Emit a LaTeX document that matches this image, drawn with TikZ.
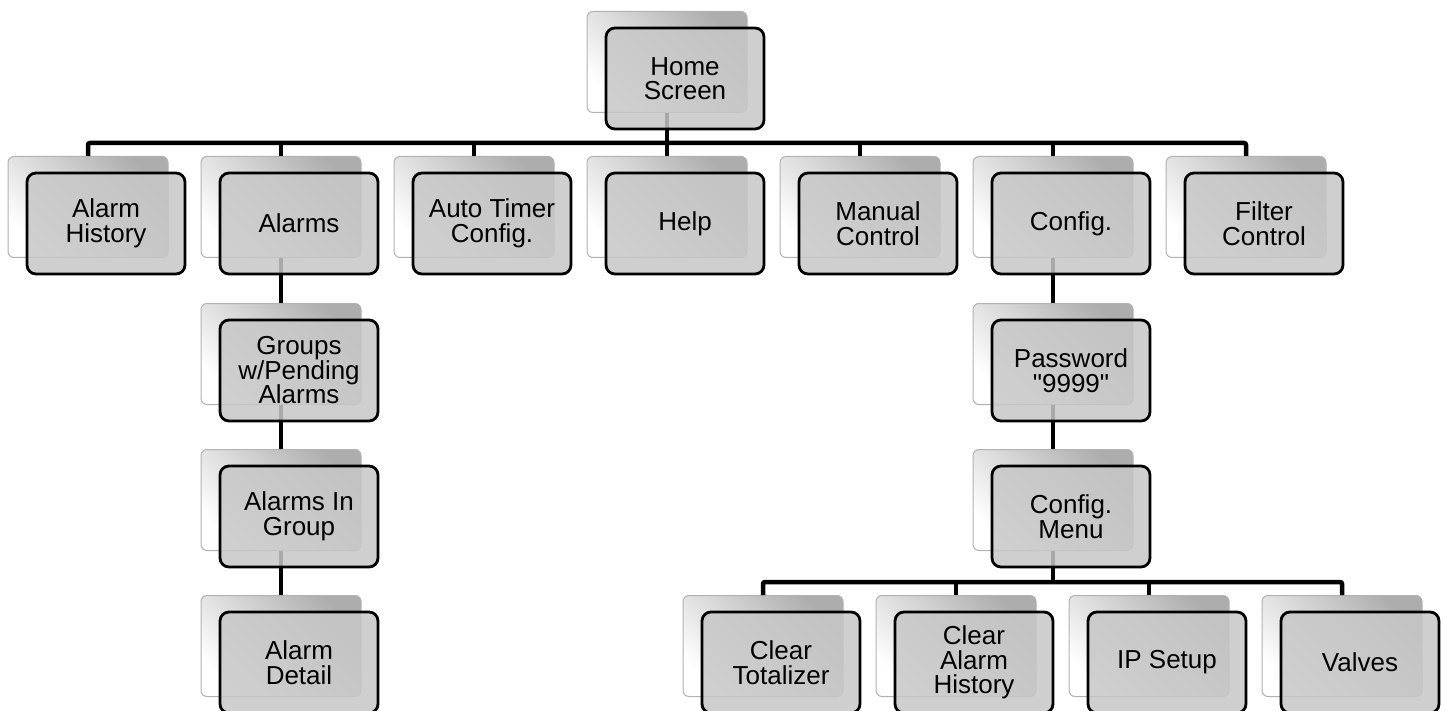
\documentclass[tikz,border=0pt]{standalone}
\usepackage{fontspec}
\setmainfont{Liberation Sans}
\usetikzlibrary{positioning,calc}

\begin{document}
\begin{tikzpicture}[x=1pt, y=-1pt,
        backbox/.style={rectangle, rounded corners=6, draw=black!30, line width=1,
            minimum width=160, minimum height=101, top color=black!32, bottom color=white, shading angle=-45},
        frontbox/.style={rectangle, rounded corners=9, draw=black, line width=2.8, fill=black!22,
            fill opacity=0.85, text opacity=1, draw opacity=1, minimum width=158, minimum height=101,
            inner sep=0, align=center, font=\fontsize{26}{24.5}\selectfont},
        link/.style={line width=4.5, rounded corners=2}
    ]
        \useasboundingbox (0,0) rectangle (1445,711);

        % back plates
        \node[backbox] (home-b) at (667,62) {};
        \node[backbox] (hist-b) at (88,207) {};
        \node[backbox] (alarms-b) at (281,207) {};
        \node[backbox] (timer-b) at (474,207) {};
        \node[backbox] (help-b) at (667,207) {};
        \node[backbox] (manual-b) at (860,207) {};
        \node[backbox] (config-b) at (1053,207) {};
        \node[backbox] (filter-b) at (1246,207) {};
        \node[backbox] (groups-b) at (281,354) {};
        \node[backbox] (ingroup-b) at (281,500) {};
        \node[backbox] (detail-b) at (281,646) {};
        \node[backbox] (passwd-b) at (1053,354) {};
        \node[backbox] (menu-b) at (1053,500) {};
        \node[backbox] (total-b) at (763,646) {};
        \node[backbox] (clrhist-b) at (956,646) {};
        \node[backbox] (ip-b) at (1149,646) {};
        \node[backbox] (valves-b) at (1342,646) {};

        % connectors
        \coordinate (bus1) at (667,143);
        \coordinate (bus2) at (1053,582);
        \draw[link] (hist-b.north) |- (bus1) -| (filter-b.north);
        \draw[link] (home-b.south) -- (bus1);
        \foreach \n in {alarms, timer, help, manual, config}
            \draw[link] (\n-b.north) -- (\n-b.north |- bus1);
        \draw[link] (alarms-b.south) -- (groups-b.north);
        \draw[link] (groups-b.south) -- (ingroup-b.north);
        \draw[link] (ingroup-b.south) -- (detail-b.north);
        \draw[link] (config-b.south) -- (passwd-b.north);
        \draw[link] (passwd-b.south) -- (menu-b.north);
        \draw[link] (total-b.north) |- (bus2) -| (valves-b.north);
        \draw[link] (menu-b.south) -- (bus2);
        \foreach \n in {clrhist, ip}
            \draw[link] (\n-b.north) -- (\n-b.north |- bus2);

        % screens
        \node[frontbox] (home) at ($(home-b)+(18,16.5)$) {Home\\Screen};
        \node[frontbox] (hist) at ($(hist-b)+(18,16.5)$) {Alarm\\History};
        \node[frontbox] (alarms) at ($(alarms-b)+(18,16.5)$) {Alarms};
        \node[frontbox] (timer) at ($(timer-b)+(18,16.5)$) {Auto Timer\\Config.};
        \node[frontbox] (help) at ($(help-b)+(18,16.5)$) {Help};
        \node[frontbox] (manual) at ($(manual-b)+(18,16.5)$) {Manual\\Control};
        \node[frontbox] (config) at ($(config-b)+(18,16.5)$) {Config.};
        \node[frontbox] (filter) at ($(filter-b)+(18,16.5)$) {Filter\\Control};
        \node[frontbox] (groups) at ($(groups-b)+(18,16.5)$) {Groups\\w/Pending\\Alarms};
        \node[frontbox] (ingroup) at ($(ingroup-b)+(18,16.5)$) {Alarms In\\Group};
        \node[frontbox] (detail) at ($(detail-b)+(18,16.5)$) {Alarm\\Detail};
        \node[frontbox] (passwd) at ($(passwd-b)+(18,16.5)$) {Password\\\textquotedbl 9999\textquotedbl};
        \node[frontbox] (menu) at ($(menu-b)+(18,16.5)$) {Config.\\Menu};
        \node[frontbox] (total) at ($(total-b)+(18,16.5)$) {Clear\\Totalizer};
        \node[frontbox] (clrhist) at ($(clrhist-b)+(18,16.5)$) {Clear\\Alarm\\History};
        \node[frontbox] (ip) at ($(ip-b)+(18,16.5)$) {IP Setup};
        \node[frontbox] (valves) at ($(valves-b)+(18,16.5)$) {Valves};
    \end{tikzpicture}
\end{document}
